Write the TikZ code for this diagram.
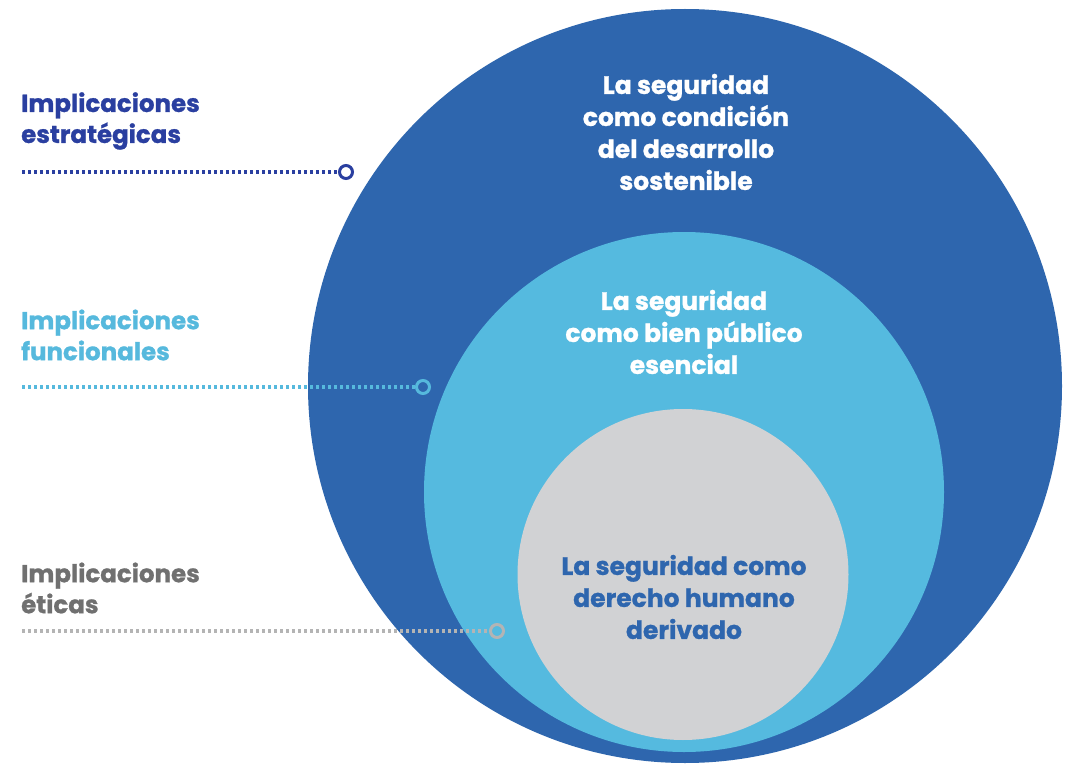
\documentclass[tikz,border=0pt]{standalone}
\usepackage{fontspec}
\setmainfont{Poppins}[BoldFeatures={FakeBold=1}]
\definecolor{bigblue}{HTML}{2E66AE}
\definecolor{midblue}{HTML}{55BADF}
\definecolor{innergray}{HTML}{D1D2D4}
\definecolor{darkblue}{HTML}{2A3FA0}
\definecolor{lightbluetxt}{HTML}{56B9DD}
\definecolor{graytxt}{HTML}{707070}
\definecolor{graydot}{HTML}{B4B4B4}
\tikzset{
  disc/.style={circle, inner sep=0pt, draw=none},
  circtext/.style={align=center, inner sep=0pt, font=\bfseries\fontsize{25}{32}\selectfont},
  sidelabel/.style={anchor=west, align=left, inner sep=0pt, font=\bfseries\fontsize{24.5}{31}\selectfont},
  marker/.style={circle, inner sep=0pt, minimum size=13pt, line width=3pt},
  dotline/.style={line width=3.2pt, dash pattern=on 3pt off 3pt}
}
\begin{document}
\begin{tikzpicture}[x=1pt,y=-1pt]
\useasboundingbox (0,0) rectangle (1077,765);
\fill[white] (0,0) rectangle (1077,765);
% circles
\node[disc, fill=bigblue, minimum size=754pt] (outer) at (685,386) {};
\node[disc, fill=midblue, minimum size=520pt] (middle) at (684,492) {};
\node[disc, fill=innergray, minimum size=331pt] (inner) at (683,574.5) {};
% circle texts
\node[circtext, text=white] (t1) at (686,132) {La seguridad\\como condición\\del desarrollo\\sostenible};
\node[circtext, text=white] (t2) at (684,332) {La seguridad\\como bien público\\esencial};
\node[circtext, text=bigblue] (t3) at (684,597) {La seguridad como\\derecho humano\\derivado};
% side labels
\node[sidelabel, text=darkblue] (l1) at (21,121) {Implicaciones\\estratégicas};
\node[sidelabel, text=lightbluetxt] (l2) at (21,335) {Implicaciones\\funcionales};
\node[sidelabel, text=graytxt] (l3) at (21,588) {Implicaciones\\éticas};
% dotted connectors with markers
\coordinate (s1) at (22,172);
\coordinate (s2) at (22,387);
\coordinate (s3) at (22,631);
\node[marker, draw=darkblue] (m1) at (346,172) {};
\node[marker, draw=lightbluetxt] (m2) at (423,387) {};
\node[marker, draw=graydot] (m3) at (497,631) {};
\draw[dotline, draw=darkblue] (s1) -- (m1.west);
\draw[dotline, draw=lightbluetxt] (s2) -- (m2.west);
\draw[dotline, draw=graydot] (s3) -- (m3.west);
\end{tikzpicture}
\end{document}
